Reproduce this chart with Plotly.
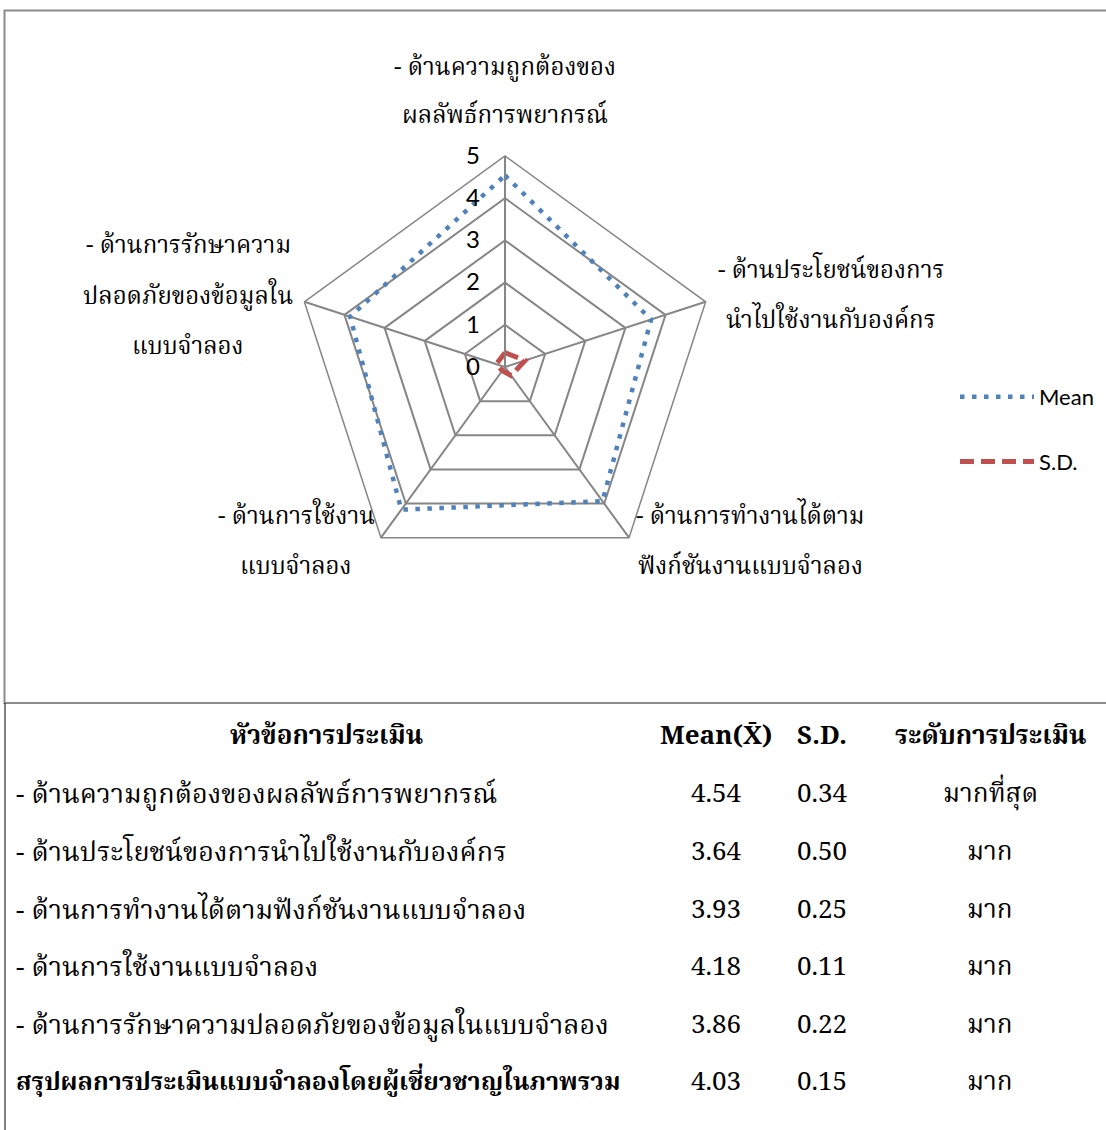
import plotly.graph_objects as go

# Evaluation aspects (radar axes, clockwise from top)
aspects = [
    "- ด้านความถูกต้องของผลลัพธ์การพยากรณ์",
    "- ด้านประโยชน์ของการนำไปใช้งานกับองค์กร",
    "- ด้านการทำงานได้ตามฟังก์ชันงานแบบจำลอง",
    "- ด้านการใช้งานแบบจำลอง",
    "- ด้านการรักษาความปลอดภัยของข้อมูลในแบบจำลอง",
]
# Wrapped versions used as radar labels
aspect_lines = [
    ["- ด้านความถูกต้องของ", "ผลลัพธ์การพยากรณ์"],
    ["- ด้านประโยชน์ของการ", "นำไปใช้งานกับองค์กร"],
    ["- ด้านการทำงานได้ตาม", "ฟังก์ชันงานแบบจำลอง"],
    ["- ด้านการใช้งาน", "แบบจำลอง"],
    ["- ด้านการรักษาความ", "ปลอดภัยของข้อมูลใน", "แบบจำลอง"],
]
mean_values = [4.54, 3.64, 3.93, 4.18, 3.86]
sd_values = [0.34, 0.50, 0.25, 0.11, 0.22]
levels = ["มากที่สุด", "มาก", "มาก", "มาก", "มาก"]

summary_label = "สรุปผลการประเมินแบบจำลองโดยผู้เชี่ยวชาญในภาพรวม"
summary_mean = 4.03
summary_sd = 0.15
summary_level = "มาก"

header_labels = ["หัวข้อการประเมิน", "Mean(X\u0304)", "S.D.", "ระดับการประเมิน"]
radial_ticks = [0, 1, 2, 3, 4, 5]

W, H = 1106, 1130


def px(x):
    return x / W


def py(y):
    return 1 - y / H


THAI_FONT = "Noto Serif Thai, Noto Sans Thai, Loma, Garuda, Liberation Serif, serif"
SANS = "Lato, Open Sans, sans-serif"

theta = [str(i) for i in range(len(aspects))]

fig = go.Figure()
fig.add_trace(go.Scatterpolar(
    r=mean_values + mean_values[:1],
    theta=theta + theta[:1],
    mode="lines",
    name="Mean",
    legendgroup="mean",
    line=dict(color="#4F81BD", width=4.5, dash="4.5px,7.5px"),
))
fig.add_trace(go.Scatterpolar(
    r=sd_values + sd_values[:1],
    theta=theta + theta[:1],
    mode="lines",
    name="S.D.",
    legendgroup="sd",
    line=dict(color="#C0504D", width=5, dash="14px,7px"),
))

# Radar centre (505, 367), outer radius 211 px
cx, cy, R = 505, 367, 211
fig.update_layout(
    width=W, height=H,
    margin=dict(l=0, r=0, t=0, b=0),
    paper_bgcolor="white",
    plot_bgcolor="white",
    showlegend=True,
    legend=dict(
        x=px(955), y=py(376), xanchor="left", yanchor="top",
        font=dict(family=SANS, size=22, color="#000000"),
        itemwidth=74,
        tracegroupgap=33,
        bgcolor="rgba(0,0,0,0)",
    ),
    polar=dict(
        domain=dict(x=[px(cx - R), px(cx + R)], y=[py(cy + R), py(cy - R)]),
        gridshape="linear",
        bgcolor="white",
        angularaxis=dict(
            type="category",
            categoryarray=theta,
            rotation=90,
            direction="clockwise",
            showticklabels=False,
            ticks="",
            showline=True,
            linecolor="#868686",
            linewidth=1.5,
            gridcolor="#868686",
            gridwidth=1.5,
        ),
        radialaxis=dict(
            range=[0, 5],
            tickvals=radial_ticks,
            angle=90,
            side="counterclockwise",
            ticks="outside",
            ticklen=16,
            tickcolor="rgba(0,0,0,0)",
            showline=True,
            linecolor="#868686",
            linewidth=1.5,
            gridcolor="#868686",
            gridwidth=1.5,
            tickfont=dict(family=SANS, size=24, color="#000000"),
            tickangle=90,
        ),
    ),
)

annotations = []

# Radar labels (one annotation per wrapped line)
label_pos = [
    (505, [68, 116]),
    (831, [271, 321]),
    (750, [517, 567]),
    (296, [517, 567]),
    (188, [247, 297, 347]),
]
for lines, (lx, ys) in zip(aspect_lines, label_pos):
    for txt, ly in zip(lines, ys):
        annotations.append(dict(
            x=px(lx), y=py(ly), xref="paper", yref="paper",
            text=txt, showarrow=False, xanchor="center", yanchor="middle",
            font=dict(family=THAI_FONT, size=24, color="#000000"),
        ))

# Table header
col_x = [326, 716, 822, 990]
for txt, x in zip(header_labels, col_x):
    annotations.append(dict(
        x=px(x), y=py(737), xref="paper", yref="paper",
        text="<b>" + txt + "</b>", showarrow=False,
        xanchor="center", yanchor="middle",
        font=dict(family=THAI_FONT, size=26, color="#000000"),
    ))

# Table rows
row_y = [795, 853, 911, 968, 1026, 1083]
rows = [(name, m, s, lev, 27) for name, m, s, lev in zip(aspects, mean_values, sd_values, levels)]
rows.append(("<b>" + summary_label + "</b>", summary_mean, summary_sd, summary_level, 25))
for (name, m, s, lev, fs), ry in zip(rows, row_y):
    annotations.append(dict(
        x=px(14), y=py(ry), xref="paper", yref="paper",
        text=name, showarrow=False, xanchor="left", yanchor="middle",
        font=dict(family=THAI_FONT, size=fs, color="#000000"),
    ))
    for txt, x in zip([f"{m:.2f}", f"{s:.2f}", lev], col_x[1:]):
        annotations.append(dict(
            x=px(x), y=py(ry), xref="paper", yref="paper",
            text=txt, showarrow=False, xanchor="center", yanchor="middle",
            font=dict(family=THAI_FONT, size=26, color="#000000"),
        ))

fig.update_layout(annotations=annotations)

# Chart frame and table edge
fig.add_shape(type="rect", xref="paper", yref="paper",
              x0=px(4.5), x1=px(1112), y0=py(703), y1=py(10.5),
              line=dict(color="#8C8C8C", width=2), fillcolor="rgba(0,0,0,0)")
fig.add_shape(type="line", xref="paper", yref="paper",
              x0=px(5), x1=px(5), y0=py(703), y1=py(1130),
              line=dict(color="#000000", width=1))

fig.write_html("out.html")
